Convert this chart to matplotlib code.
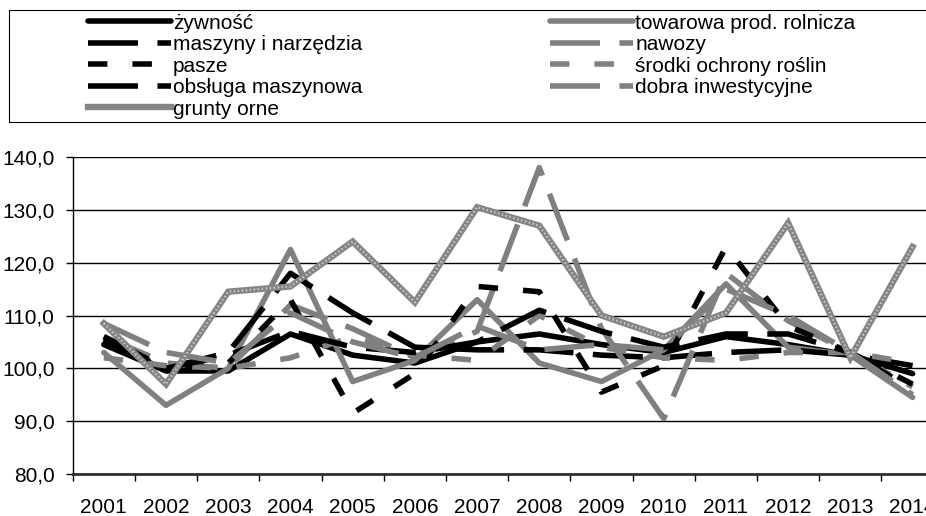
import matplotlib
matplotlib.use("Agg")
import matplotlib.pyplot as plt
from matplotlib.patches import Rectangle
import numpy as np

plt.rcParams['font.family'] = ['Liberation Sans', 'DejaVu Sans']

years = ['2001', '2002', '2003', '2004', '2005', '2006', '2007',
         '2008', '2009', '2010', '2011', '2012', '2013', '2014']

zywnosc = [104.5, 99.5, 99.5, 106.5, 102.5, 101.0, 105.0, 106.5, 104.5, 103.0, 106.0, 104.5, 102.5, 99.0]
towarowa = [103.0, 93.0, 100.0, 122.5, 97.5, 101.5, 113.0, 101.0, 97.5, 103.5, 116.0, 104.0, 102.5, 94.5]
maszyny = [105.0, 100.0, 103.0, 118.0, 110.5, 104.0, 103.5, 103.5, 102.5, 102.0, 103.0, 103.5, 102.5, 100.5]
nawozy = [106.0, 101.0, 100.0, 112.0, 107.5, 102.0, 107.0, 138.0, 107.5, 90.5, 118.0, 109.0, 103.0, 96.5]
pasze = [105.5, 99.5, 101.0, 113.0, 91.5, 99.0, 115.5, 114.5, 95.5, 100.5, 123.0, 108.0, 103.0, 96.0]
srodki = [102.0, 100.5, 100.0, 102.0, 106.0, 102.5, 101.5, 110.0, 104.0, 102.0, 101.5, 103.0, 103.0, 101.0]
obsluga = [106.0, 100.0, 102.5, 107.0, 104.0, 103.0, 105.0, 111.0, 107.0, 104.0, 106.5, 106.5, 103.0, 97.0]
dobra = [108.5, 103.0, 101.0, 110.5, 105.0, 102.0, 108.0, 103.5, 104.5, 103.5, 115.0, 110.0, 103.0, 95.0]
grunty = [108.5, 97.0, 114.5, 115.5, 124.0, 112.5, 130.5, 127.0, 110.0, 106.0, 110.5, 127.5, 102.0, 123.0]

W, H = 926, 516
fig = plt.figure(figsize=(W / 100, H / 100), dpi=100)
ax = fig.add_axes([72.7 / W, 1 - 474 / H, 871 / W, (474 - 157) / H])

x = np.arange(len(years))
BLACK = '#000000'
GREY = '#808080'
LW = 4.0
long_dash = (0, (9, 3.5))
short_dash = (0, (3.5, 4.5))

h = {}
h['zyw'], = ax.plot(x, zywnosc, color=BLACK, lw=LW, solid_capstyle='round', solid_joinstyle='round', label='żywność')
h['tow'], = ax.plot(x, towarowa, color=GREY, lw=LW, solid_capstyle='round', solid_joinstyle='round', label='towarowa prod. rolnicza')
h['masz'], = ax.plot(x, maszyny, color=BLACK, lw=LW, linestyle=long_dash, dash_capstyle='butt', label='maszyny i narzędzia')
h['naw'], = ax.plot(x, nawozy, color=GREY, lw=LW, linestyle=long_dash, dash_capstyle='butt', label='nawozy')
h['pas'], = ax.plot(x, pasze, color=BLACK, lw=LW, linestyle=short_dash, dash_capstyle='butt', label='pasze')
h['sro'], = ax.plot(x, srodki, color=GREY, lw=LW, linestyle=short_dash, dash_capstyle='butt', label='środki ochrony roślin')
h['obs'], = ax.plot(x, obsluga, color=BLACK, lw=LW, linestyle=long_dash, dash_capstyle='butt', label='obsługa maszynowa')
h['dob'], = ax.plot(x, dobra, color=GREY, lw=LW, linestyle=long_dash, dash_capstyle='butt', label='dobra inwestycyjne')
h['gru'], = ax.plot(x, grunty, color='#858585', lw=4.6, solid_joinstyle='miter', label='grunty orne')
ax.plot(x, grunty, color='#cfcfcf', lw=1.6, linestyle=(0, (0.6, 1.2)))

ax.set_xlim(-0.5, 13.5)
ax.set_ylim(80, 140)
ax.set_yticks(np.arange(80, 141, 10))
ax.set_yticklabels([f"{v:.1f}".replace('.', ',') for v in np.arange(80, 141, 10)])
ax.yaxis.grid(True, color='black', lw=1.0)
ax.set_axisbelow(True)

ax.set_xticks(x)
ax.set_xticklabels(years)
ax.set_xticks(np.arange(-0.5, 13.6, 1), minor=True)
ax.tick_params(axis='x', which='major', length=0, pad=17, labelsize=15)
ax.tick_params(axis='x', which='minor', length=5, width=1, direction='out')
ax.tick_params(axis='y', which='major', length=5, width=1, direction='out', pad=8, labelsize=15)

for s in ['top', 'right']:
    ax.spines[s].set_visible(False)
ax.spines['left'].set_color('black')
ax.spines['left'].set_linewidth(1.0)
ax.spines['bottom'].set_color('#303030')
ax.spines['bottom'].set_linewidth(2.0)

# legend frame
fig.patches.append(Rectangle((9 / W, 1 - 122 / H), 1.0, 112 / H, transform=fig.transFigure,
                             facecolor='none', edgecolor='black', lw=0.8))

order = ['zyw', 'masz', 'pas', 'obs', 'gru', 'tow', 'naw', 'sro', 'dob']
leg = fig.legend([h[k] for k in order], [h[k].get_label() for k in order],
                 ncol=2, loc='upper left', bbox_to_anchor=(73 / W, 1 + 1 / H),
                 frameon=False, fontsize=15, handlelength=4.0, handletextpad=0.1,
                 columnspacing=9.0, labelspacing=0.12, borderpad=0.2)

fig.savefig('out.png', dpi=100)
